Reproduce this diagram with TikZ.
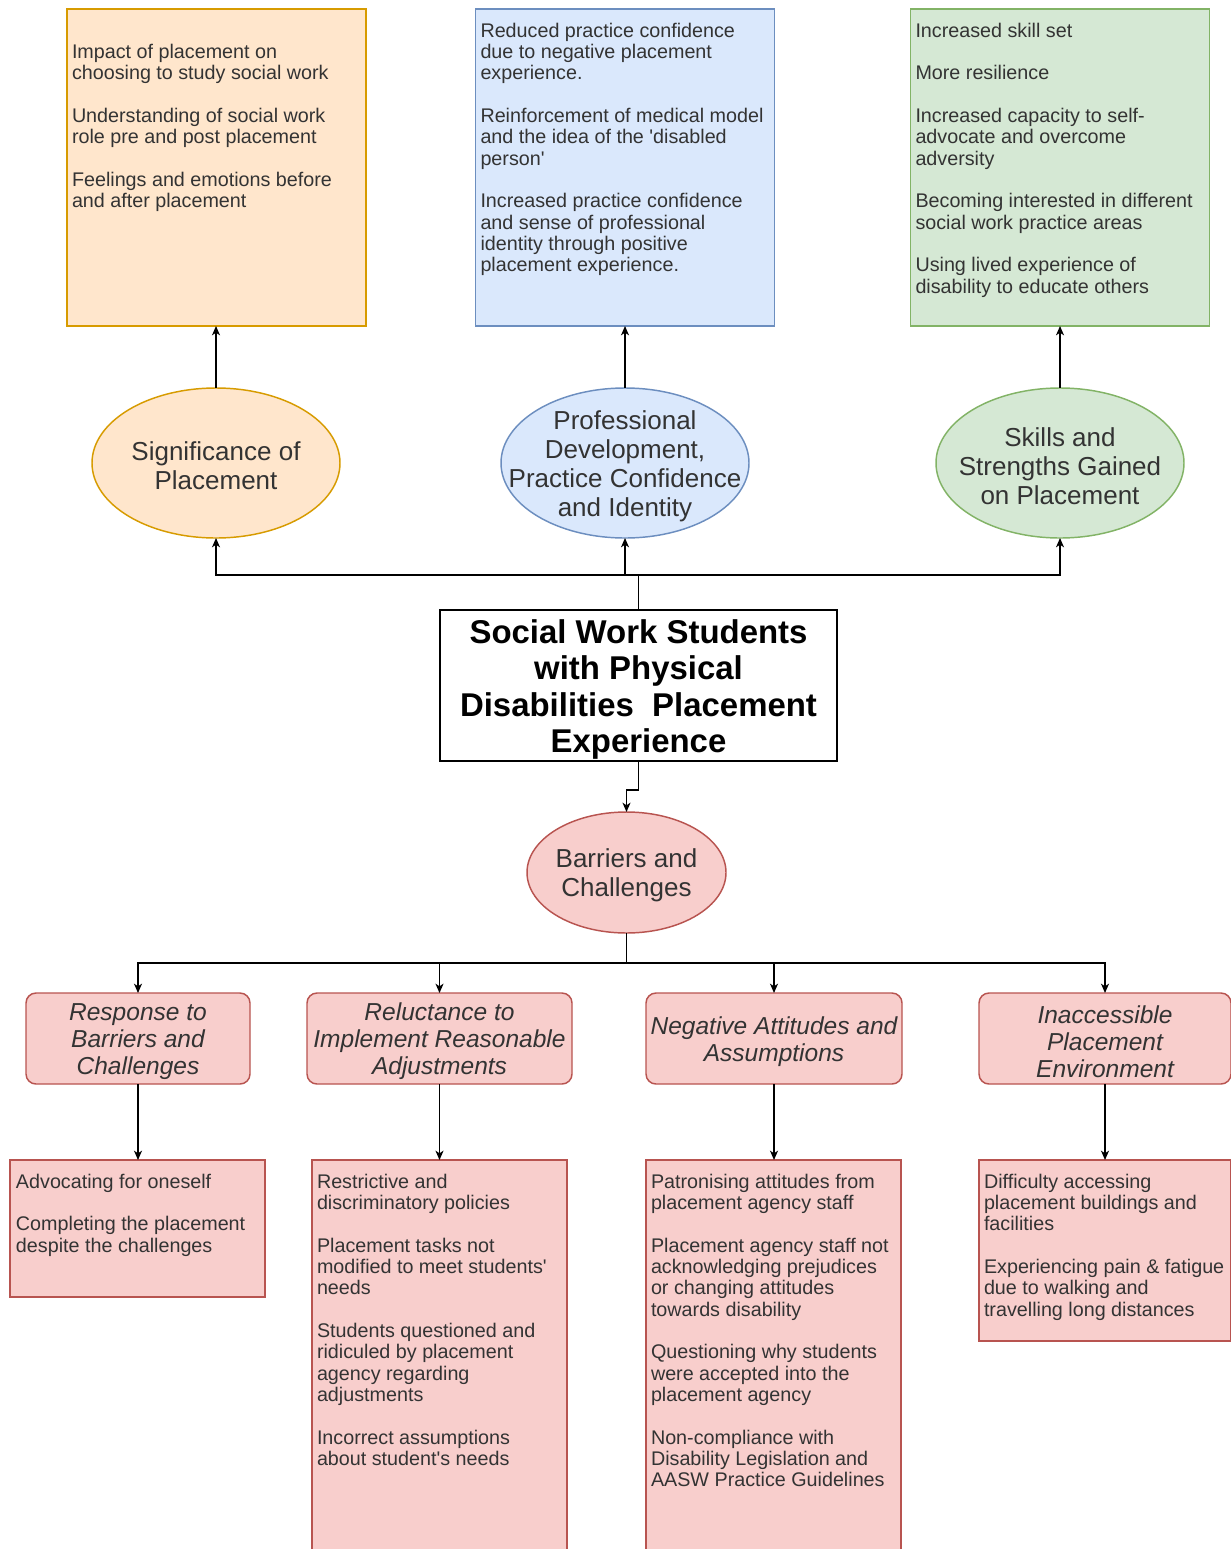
\documentclass[tikz,border=0pt]{standalone}
\usepackage{fontspec}
\setmainfont{Liberation Sans}
\usetikzlibrary{shapes.geometric,arrows.meta}
\definecolor{orangefill}{HTML}{FFE6CC}
\definecolor{orangeline}{HTML}{D79B00}
\definecolor{bluefill}{HTML}{DAE8FC}
\definecolor{blueline}{HTML}{6C8EBF}
\definecolor{greenfill}{HTML}{D5E8D4}
\definecolor{greenline}{HTML}{82B366}
\definecolor{redfill}{HTML}{F8CECC}
\definecolor{redline}{HTML}{B85450}
\definecolor{textgray}{HTML}{333333}
\begin{document}
\begin{tikzpicture}[x=0.75pt, y=-0.75pt,
    every node/.style={outer sep=0pt},
    arr/.style={line width=1.1pt, -{Stealth[length=7pt,width=6pt,inset=2pt]}},
    listbox/.style={draw, line width=1.1pt, inner sep=0pt},
    listtext/.style={anchor=north west, inner sep=0pt, align=left, text=textgray,
        font=\fontsize{14.8}{16}\selectfont},
    theme/.style={ellipse, draw, line width=1.1pt, inner sep=0pt,
        minimum width=186pt, minimum height=112.5pt},
    themetext/.style={inner sep=0pt, align=center, text=textgray, yshift=-2.25pt,
        font=\fontsize{19.5}{21.75}\selectfont},
    subtheme/.style={draw=redline, fill=redfill, rounded corners=7.5pt, line width=1.1pt,
        minimum height=68.25pt, inner sep=1pt, align=center, text=textgray,
        font=\fontsize{18.4}{20.25}\selectfont\itshape},
    subtext/.style={inner sep=0pt, align=center, text=textgray, yshift=-2.25pt,
        font=\fontsize{18.4}{20.25}\selectfont\itshape},
]
    \path[use as bounding box, clip] (0,0) rectangle (1231,1549);

    % top row: list boxes
    \node[listbox, draw=orangeline, fill=orangefill, minimum width=224.25pt, minimum height=237.75pt] (sigbox) at (216.5,167.5) {};
    \node[listbox, draw=blueline, fill=bluefill, minimum width=224.25pt, minimum height=237.75pt] (profbox) at (625,167.5) {};
    \node[listbox, draw=greenline, fill=greenfill, minimum width=224.25pt, minimum height=237.75pt] (skillbox) at (1060,167.5) {};

    \node[listtext] (sigtext) at ([shift={(5,35)}]sigbox.north west)
        {Impact of placement on\\choosing to study social work\\[16pt]
         Understanding of social work\\role pre and post placement\\[16pt]
         Feelings and emotions before\\and after placement};
    \node[listtext] (proftext) at ([shift={(5,14)}]profbox.north west)
        {Reduced practice confidence\\due to negative placement\\experience.\\[16pt]
         Reinforcement of medical model\\and the idea of the \textquotesingle disabled\\person\textquotesingle\\[16pt]
         Increased practice confidence\\and sense of professional\\identity through positive\\placement experience.};
    \node[listtext] (skilltext) at ([shift={(5,14)}]skillbox.north west)
        {Increased skill set\\[16pt]
         More resilience\\[16pt]
         Increased capacity to self-\\advocate and overcome\\adversity\\[16pt]
         Becoming interested in different\\social work practice areas\\[16pt]
         Using lived experience of\\disability to educate others};

    % themes
    \node[theme, draw=orangeline, fill=orangefill] (sig) at (216,463) {};
    \node[theme, draw=blueline, fill=bluefill] (prof) at (625,463) {};
    \node[theme, draw=greenline, fill=greenfill] (skill) at (1060,463) {};
    \node[themetext] (sigt) at (sig) {Significance of\\Placement};
    \node[themetext] (proft) at (prof) {Professional\\Development,\\Practice Confidence\\and Identity};
    \node[themetext] (skillt) at (skill) {Skills and\\Strengths Gained\\on Placement};

    % centre
    \node[draw, line width=1.1pt, fill=white, minimum width=297.75pt, minimum height=113.25pt,
        inner sep=2pt] (title) at (638.5,685.5) {};
    \node[inner sep=0pt, align=center, yshift=-3pt, font=\fontsize{24.7}{27.3}\selectfont\bfseries] (titlet) at (title)
        {Social Work Students\\with Physical\\Disabilities~ Placement\\Experience};
    \node[theme, draw=redline, fill=redfill, minimum width=149.25pt, minimum height=90.75pt] (bar) at (626.5,872.5) {};
    \node[themetext] (bart) at (bar) {Barriers and\\Challenges};

    % sub-themes
    \node[subtheme, minimum width=168pt] (resp) at (138,1038.5) {};
    \node[subtheme, minimum width=198.75pt] (reluct) at (439.5,1038.5) {};
    \node[subtheme, minimum width=192pt] (attit) at (774,1038.5) {};
    \node[subtheme, minimum width=189pt] (inacc) at (1105,1038.5) {};
    \node[subtext] (respt) at (resp) {Response to\\Barriers and\\Challenges};
    \node[subtext] (reluctt) at (reluct) {Reluctance to\\Implement Reasonable\\Adjustments};
    \node[subtext] (attitt) at (attit) {Negative Attitudes and\\Assumptions};
    \node[subtext] (inacct) at (inacc) {Inaccessible\\Placement\\Environment};

    % bottom row: list boxes
    \node[listbox, draw=redline, fill=redfill, minimum width=191.25pt, minimum height=102.75pt] (respbox) at (137.5,1228.5) {};
    \node[listbox, draw=redline, fill=redfill, minimum width=191.25pt, minimum height=307.5pt] (reluctbox) at (439.5,1365) {};
    \node[listbox, draw=redline, fill=redfill, minimum width=191.25pt, minimum height=307.5pt] (attitbox) at (773.5,1365) {};
    \node[listbox, draw=redline, fill=redfill, minimum width=189pt, minimum height=135.75pt] (inaccbox) at (1105,1250.5) {};

    \node[listtext] (resptext) at ([shift={(6,14)}]respbox.north west)
        {Advocating for oneself\\[16pt]
         Completing the placement\\despite the challenges};
    \node[listtext] (reluctext) at ([shift={(5,14)}]reluctbox.north west)
        {Restrictive and\\discriminatory policies\\[16pt]
         Placement tasks not\\modified to meet students\textquotesingle\\needs\\[16pt]
         Students questioned and\\ridiculed by placement\\agency regarding\\adjustments\\[16pt]
         Incorrect assumptions\\about student\textquotesingle s needs};
    \node[listtext] (attittext) at ([shift={(5,14)}]attitbox.north west)
        {Patronising attitudes from\\placement agency staff\\[16pt]
         Placement agency staff not\\acknowledging prejudices\\or changing attitudes\\towards disability\\[16pt]
         Questioning why students\\were accepted into the\\placement agency\\[16pt]
         Non-compliance with\\Disability Legislation and\\AASW Practice Guidelines};
    \node[listtext] (inacctext) at ([shift={(5,14)}]inaccbox.north west)
        {Difficulty accessing\\placement buildings and\\facilities\\[16pt]
         Experiencing pain \& fatigue\\due to walking and\\travelling long distances};

    % connectors
    \coordinate (hub) at (638.5,575);
    \draw[arr] (title.north) -- (hub) -| (sig.south);
    \draw[arr] (title.north) -- (hub) -| (prof.south);
    \draw[arr] (title.north) -- (hub) -| (skill.south);
    \draw[arr] (sig.north) -- (sig.north |- sigbox.south);
    \draw[arr] (prof.north) -- (prof.north |- profbox.south);
    \draw[arr] (skill.north) -- (skill.north |- skillbox.south);

    \coordinate (jog) at (638.5,790);
    \draw[arr] (title.south) -- (jog) -| (bar.north);

    \coordinate (split) at (626.5,963);
    \foreach \n in {resp,reluct,attit,inacc}
        \draw[arr] (bar.south) -- (split) -| (\n.north);
    \foreach \n in {resp,reluct,attit,inacc}
        \draw[arr] (\n.south) -- (\n.south |- \n box.north);
\end{tikzpicture}
\end{document}
